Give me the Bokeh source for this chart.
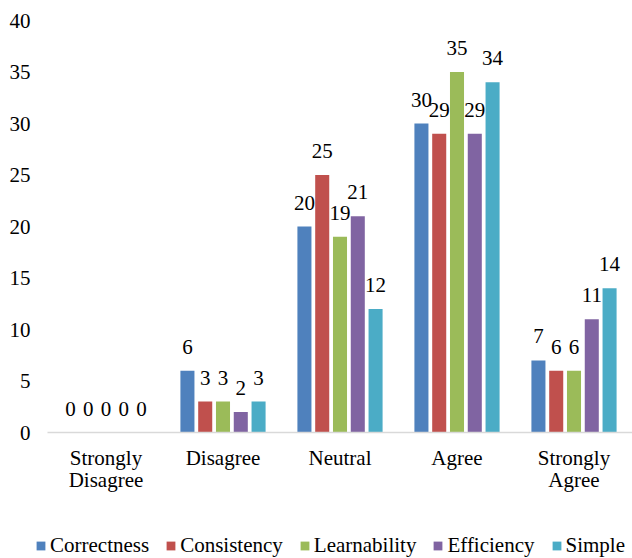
import numpy as np
from bokeh.plotting import figure
from bokeh.layouts import column
from bokeh.models import (ColumnDataSource, Range1d, FixedTicker, Legend, LegendItem, LinearAxis)
from bokeh.transform import dodge
from bokeh.core.properties import value
from bokeh.embed import file_html
from bokeh.resources import INLINE

categories = ["Strongly Disagree", "Disagree", "Neutral", "Agree", "Strongly Agree"]
label_line1 = ["Strongly", "Disagree", "Neutral", "Agree", "Strongly"]
label_line2 = ["Disagree", "", "", "", "Agree"]
series_names = ["Correctness", "Consistency", "Learnability", "Efficiency", "Simple"]
correctness = [0, 6, 20, 30, 7]
consistency = [0, 3, 25, 29, 6]
learnability = [0, 3, 19, 35, 6]
efficiency = [0, 2, 21, 29, 11]
simple = [0, 3, 12, 34, 14]
y_ticks = [0, 5, 10, 15, 20, 25, 30, 35, 40]
colors = ["#4F81BD", "#C0504D", "#9BBB59", "#8064A2", "#4BACC6"]

series_values = [correctness, consistency, learnability, efficiency, simple]
FONT = "Liberation Serif"
FS = "21px"

positions = list(range(len(categories)))
data = {"cat": categories, "pos": positions}
for name, vals in zip(series_names, series_values):
    data[name] = vals
    data[name + "_lbl"] = [str(v) for v in vals]
source = ColumnDataSource(data)

p = figure(width=632, height=520, x_range=Range1d(-0.5, len(categories) - 0.5),
           y_range=Range1d(0, 40), output_backend="svg", toolbar_location=None,
           x_axis_type=None,
           min_border_left=47, min_border_right=0, min_border_top=20, min_border_bottom=88)
p.frame_align = False
p.outline_line_color = None
p.xgrid.grid_line_color = None
p.ygrid.grid_line_color = None
p.background_fill_color = "white"
p.border_fill_color = "white"

step = 0.152
width = 0.12
for i, (name, col) in enumerate(zip(series_names, colors)):
    off = (i - 2) * step
    p.vbar(x=dodge("pos", off), top=name, width=width, source=source,
           fill_color=col, line_color=None)
    p.text(x=dodge("pos", off), y=name, text=name + "_lbl", source=source,
           text_align="center", text_baseline="alphabetic", y_offset=-24,
           text_font=value(FONT), text_font_size=FS, text_color="#000000")

p.yaxis.ticker = FixedTicker(ticks=y_ticks)
p.yaxis.axis_line_color = None
p.yaxis.major_tick_line_color = None
p.yaxis.major_tick_out = 0
p.yaxis.minor_tick_line_color = None
p.yaxis.major_label_standoff = 17
p.yaxis.major_label_text_font = FONT
p.yaxis.major_label_text_font_size = FS
p.yaxis.major_label_text_color = "#000000"

xa = LinearAxis(ticker=FixedTicker(ticks=positions),
                axis_line_color="#D9D9D9", axis_line_width=1.5,
                major_tick_line_color=None, major_tick_out=0, minor_tick_line_color=None,
                major_label_standoff=13, major_label_text_font=FONT,
                major_label_text_font_size=FS, major_label_text_color="#000000",
                major_label_overrides=dict(zip(positions, label_line1)))
p.add_layout(xa, "below")
xa2 = LinearAxis(ticker=FixedTicker(ticks=positions),
                 axis_line_color=None, major_tick_line_color=None, major_tick_out=0,
                 minor_tick_line_color=None, major_label_standoff=-5,
                 major_label_text_font=FONT, major_label_text_font_size=FS,
                 major_label_text_color="#000000",
                 major_label_overrides=dict(zip(positions, label_line2)))
p.add_layout(xa2, "below")

# legend strip
q = figure(width=632, height=38, x_range=Range1d(0, 1), y_range=Range1d(0, 1),
           output_backend="svg", toolbar_location=None, x_axis_type=None, y_axis_type=None,
           min_border=0, min_border_left=0, min_border_right=0, min_border_top=0,
           min_border_bottom=0)
q.frame_align = False
q.outline_line_color = None
q.xgrid.grid_line_color = None
q.ygrid.grid_line_color = None
items = []
for name, col in zip(series_names, colors):
    r = q.vbar(x=np.array([np.nan]), top=np.array([np.nan]), width=0.1,
               fill_color=col, line_color=None)
    items.append(LegendItem(label=name, renderers=[r]))
legend = Legend(items=items, orientation="horizontal", location=(35, 0),
                border_line_color=None, padding=0, margin=0, background_fill_alpha=0,
                label_text_font=FONT, label_text_font_size=FS, label_text_color="#000000",
                glyph_width=11, glyph_height=11, label_standoff=4, spacing=16,
                label_height=23)
q.add_layout(legend, "center")

open("out.html", "w").write(file_html(column(p, q, spacing=0), INLINE))
